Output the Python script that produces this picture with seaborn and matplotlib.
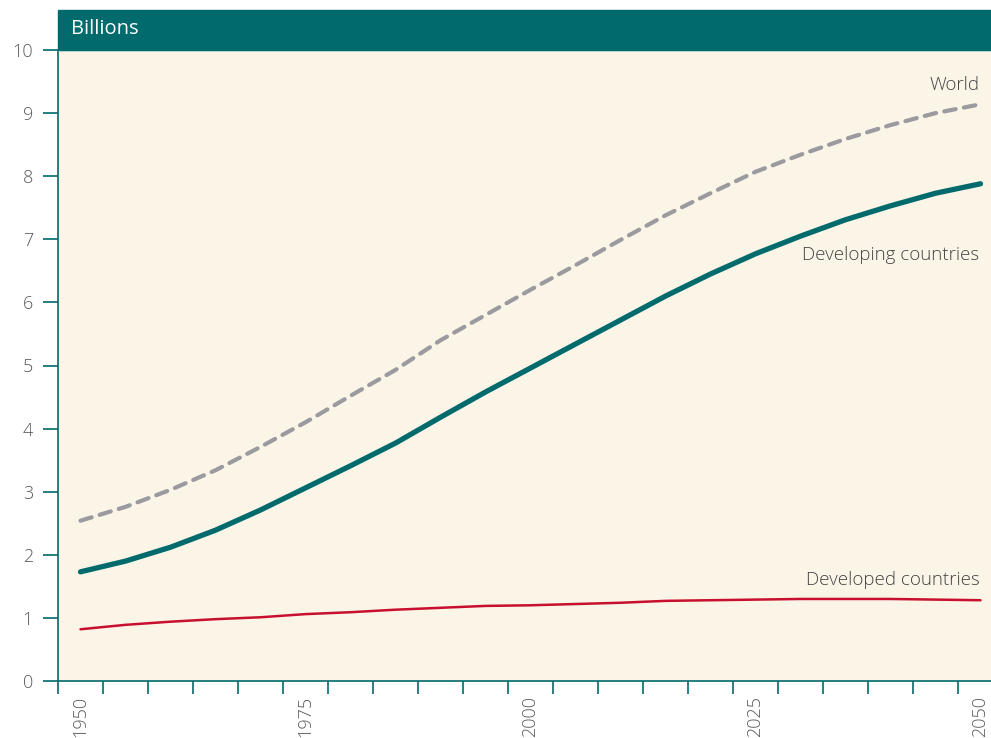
import pandas as pd
import matplotlib.pyplot as plt
import seaborn as sns
from matplotlib.patches import Rectangle

# population, billions
years = list(range(1950, 2051, 5))
world = [2.54, 2.76, 3.03, 3.34, 3.71, 4.10, 4.52, 4.93, 5.40, 5.80, 6.20,
         6.59, 6.99, 7.38, 7.73, 8.07, 8.34, 8.59, 8.81, 9.00, 9.14]
developing = [1.73, 1.90, 2.12, 2.39, 2.71, 3.06, 3.41, 3.77, 4.18, 4.58, 4.96,
              5.34, 5.72, 6.10, 6.45, 6.77, 7.05, 7.31, 7.53, 7.73, 7.88]
developed = [0.82, 0.89, 0.94, 0.98, 1.01, 1.06, 1.09, 1.13, 1.16, 1.19, 1.20,
             1.22, 1.24, 1.27, 1.28, 1.29, 1.30, 1.30, 1.30, 1.29, 1.28]
year_labels = [1950, 1975, 2000, 2025, 2050]

df = pd.DataFrame({"year": years, "World": world,
                   "Developing countries": developing,
                   "Developed countries": developed})
long = df.melt(id_vars="year", var_name="group", value_name="pop")

sns.set_style("white")
plt.rcParams['font.family'] = ['Open Sans', 'DejaVu Sans']
plt.rcParams['font.weight'] = 'light'

teal = "#006a6c"
fig = plt.figure(figsize=(9.91, 7.38), dpi=100)
W, H = 991, 738
ax = fig.add_axes([58 / W, 57 / H, 933 / W, 631 / H])
ax.set_facecolor("#fbf5e8")

palette = {"World": "#9a9a9f", "Developing countries": teal,
           "Developed countries": "#c8102e"}
sizes = {"World": 3.0, "Developing countries": 3.8, "Developed countries": 1.8}
sns.lineplot(data=long, x="year", y="pop", hue="group", palette=palette,
             size="group", sizes=sizes, legend=False, ax=ax)
for line in ax.lines:
    line.set_solid_capstyle("round")
    line.set_dash_capstyle("round")
ax.lines[0].set_dashes([2.8, 2.0])

ax.set_xlim(1947.5, 1947.5 + 933 / 9)
ax.set_ylim(0, 10)
ax.set_xlabel("")
ax.set_ylabel("")
ax.set_xticks([y - 2.5 for y in years])
ax.set_xticklabels([])
ax.set_xticks(year_labels, minor=True)
ax.set_xticklabels([str(y) for y in year_labels], minor=True, rotation=90)
ax.tick_params(axis="x", which="major", direction="out", length=9, width=1.2,
               color=teal, bottom=True)
ax.tick_params(axis="x", which="minor", length=0, pad=11, labelsize=13,
               labelcolor="#5a5a5a")
ax.set_yticks(range(0, 11))
ax.tick_params(axis="y", direction="out", length=11, width=1.2, color=teal,
               left=True, labelsize=13, labelcolor="#5a5a5a", pad=7)

ax.spines["right"].set_visible(False)
ax.spines["left"].set_color(teal)
ax.spines["bottom"].set_color(teal)
ax.spines["left"].set_linewidth(1.2)
ax.spines["bottom"].set_linewidth(1.2)
ax.spines["top"].set_color("#9fcfcf")
ax.spines["top"].set_linewidth(1.0)

# header band
fig.patches.append(Rectangle((58 / W, 1 - 50 / H), 933 / W, 40 / H,
                             transform=fig.transFigure, color=teal, zorder=3))
fig.text(71 / W, 1 - 29 / H, "Billions", color="white", fontsize=14.5,
         fontweight="normal", va="center", ha="left", zorder=4)

lab = dict(ha="right", va="center", fontsize=13.5, color="#444444")
ax.text(2049.9, 9.45, "World", **lab)
ax.text(2049.9, 6.75, "Developing countries", **lab)
ax.text(2049.9, 1.6, "Developed countries", **lab)

fig.savefig("out.png", dpi=100)
